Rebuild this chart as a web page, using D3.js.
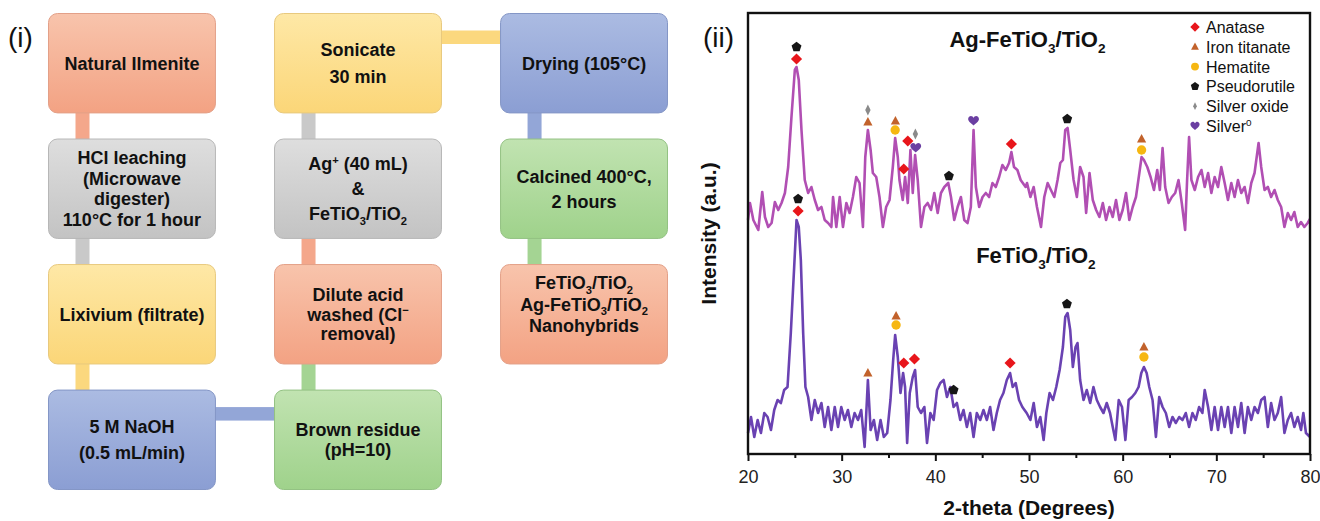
<!DOCTYPE html>
<html>
<head>
<meta charset="utf-8">
<script src="https://cdn.jsdelivr.net/npm/d3@7"></script>
<style>
  body { margin: 0; background: #fff; }
  svg { display: block; font-family: "Liberation Sans", Arial, sans-serif; }
</style>
</head>
<body>
<svg id="fig" width="1320" height="521"></svg>
<script>
// ---------- (i) flow chart: steps in process order ----------
const stepLabels = [
  ["Natural Ilmenite"],
  ["HCl leaching", "(Microwave", "digester)", "110°C for 1 hour"],
  ["Lixivium (filtrate)"],
  ["5 M NaOH", "(0.5 mL/min)"],
  ["Brown residue", "(pH=10)"],
  ["Dilute acid", "washed (Cl^−", "removal)"],
  ["Ag^+ (40 mL)", "&", "FeTiO_3/TiO_2"],
  ["Sonicate", "30 min"],
  ["Drying (105°C)"],
  ["Calcined 400°C,", "2 hours"],
  ["FeTiO_3/TiO_2", "Ag-FeTiO_3/TiO_2", "Nanohybrids"]
];
const stepCol   = [0, 0, 0, 0, 1, 1, 1, 1, 2, 2, 2];
const stepRow   = [0, 1, 2, 3, 3, 2, 1, 0, 0, 1, 2];
const stepColor = ["salmon", "gray", "yellow", "blue", "green", "salmon", "gray", "yellow", "blue", "green", "salmon"];

// ---------- (ii) XRD patterns ----------
const agTheta = [20.0,20.21,20.57,21.10,21.52,21.81,22.16,22.52,22.87,23.23,23.58,23.94,24.29,24.64,25.00,25.18,25.42,25.71,26.06,26.42,
  26.77,27.13,27.48,27.84,28.19,28.55,28.90,29.08,29.43,29.79,30.14,30.50,30.85,31.20,31.56,31.91,32.27,32.52,32.80,33.09,
  33.33,33.69,34.04,34.40,34.75,35.11,35.46,35.71,35.99,36.17,36.52,36.77,37.06,37.34,37.59,37.84,38.12,38.47,38.83,39.18,
  39.54,39.89,40.25,40.60,40.96,41.38,41.67,42.02,42.38,42.73,43.09,43.44,43.79,44.08,44.33,44.68,45.04,45.39,45.74,46.10,
  46.45,46.81,47.16,47.52,47.87,48.12,48.40,48.76,49.11,49.64,
  49.79,50.15,50.50,50.85,51.28,51.63,51.99,52.34,52.70,53.05,53.34,53.62,53.87,54.12,54.40,54.76,55.11,55.46,55.82,56.10,
  56.46,56.81,57.17,57.52,57.88,58.23,58.59,58.94,59.29,59.65,60.00,60.36,60.71,61.07,61.42,61.78,62.02,62.27,62.63,62.98,
  63.34,63.69,63.97,64.26,64.54,64.90,65.25,65.61,65.96,66.31,66.67,66.88,67.09,67.34,67.70,68.05,68.41,68.76,69.12,69.47,
  69.82,70.18,70.53,70.89,71.24,71.60,71.95,72.31,72.66,73.02,73.37,73.73,74.08,74.51,74.79,75.15,75.50,75.85,76.21,76.56,
  76.92,77.27,77.63,77.98,78.33,78.69,79.04,79.40,79.75,80.0];
const agIntensity = [234,251,234,224,262,237,227,231,252,244,251,261,287,337,384,387,374,324,274,261,
  267,254,244,247,234,231,227,257,227,257,227,251,241,257,277,271,227,297,324,304,
  281,277,257,227,247,254,287,316,297,274,254,277,251,304,261,299,274,227,247,251,
  244,261,241,261,267,271,257,234,247,257,234,231,247,324,267,247,257,261,257,271,
  267,277,289,284,291,302,287,284,274,267,
  271,257,267,247,227,257,271,264,257,274,291,294,324,326,304,274,257,287,277,241,
  281,254,244,237,251,234,247,237,254,234,244,261,234,247,257,281,297,294,287,277,
  264,284,264,306,267,251,257,261,274,251,224,274,317,274,264,277,284,267,281,261,
  277,267,287,271,254,271,257,274,261,267,251,271,281,311,287,264,267,257,264,254,
  247,227,241,234,242,227,232,227,231,235];

const feTheta = [20.0,20.32,20.67,21.03,21.38,21.74,22.09,22.45,22.80,23.16,23.51,23.86,24.22,24.57,24.93,25.18,25.42,25.64,25.89,26.13,
  26.42,26.77,27.13,27.48,27.84,28.19,28.55,28.90,29.26,29.61,29.96,30.32,30.67,31.03,31.38,31.74,32.09,32.45,32.80,33.09,
  33.44,33.79,34.15,34.50,34.86,35.21,35.50,35.71,35.99,36.28,36.56,36.77,36.99,37.27,37.59,37.84,38.12,38.47,38.83,39.11,
  39.47,39.82,40.18,40.53,40.89,41.24,41.60,41.95,42.30,42.66,43.01,43.37,43.72,44.08,44.43,44.79,45.14,45.50,45.85,46.21,
  46.56,46.91,47.27,47.63,47.98,48.26,48.58,48.94,49.29,49.75,
  50.15,50.50,50.85,51.21,51.56,51.85,52.20,52.56,52.91,53.27,53.62,53.87,54.12,54.40,54.68,54.97,55.18,55.46,55.82,56.17,
  56.53,56.88,57.24,57.59,57.95,58.30,58.65,58.94,59.22,59.58,59.93,60.29,60.64,61.00,61.35,61.70,61.99,62.27,62.56,62.84,
  63.19,63.55,63.90,64.26,64.61,64.97,65.32,65.68,66.03,66.39,66.74,67.09,67.45,67.80,68.16,68.51,68.76,69.12,69.47,69.82,
  70.18,70.53,70.89,71.24,71.60,71.95,72.31,72.66,73.02,73.37,73.73,74.08,74.44,74.79,75.15,75.50,75.85,76.21,76.56,76.92,
  77.27,77.63,77.98,78.33,78.69,79.04,79.29,79.57,80.0];
const feIntensity = [21,37,17,34,21,41,37,24,44,54,51,64,67,121,187,234,227,194,121,67,
  57,34,54,41,51,27,47,24,47,27,47,34,44,27,41,34,44,7,74,24,
  34,14,34,17,21,54,94,119,97,61,81,67,11,61,77,84,47,41,47,11,
  41,34,64,71,74,57,67,47,51,34,44,27,41,17,41,34,44,34,47,24,
  41,54,61,74,81,67,71,54,47,41,
  34,51,27,37,14,41,61,54,67,84,107,137,141,124,87,107,111,74,54,64,
  51,67,54,47,41,51,41,27,14,54,47,14,54,57,61,67,81,87,81,67,
  54,17,57,47,41,27,37,31,37,34,41,27,41,34,47,41,64,47,24,47,
  24,47,27,47,21,47,27,51,21,47,34,47,41,54,57,27,51,34,41,57,
  21,34,41,27,37,24,41,21,17];

// phase markers: [phase, 2-theta, intensity]
const agMarks = [
  ["Pseudorutile", 25.18, 407], ["Anatase", 25.18, 395],
  ["Silver oxide", 32.80, 344], ["Iron titanate", 32.80, 332],
  ["Iron titanate", 35.74, 333], ["Hematite", 35.71, 324],
  ["Anatase", 36.63, 285], ["Anatase", 37.06, 313],
  ["Silver oxide", 37.87, 320], ["Silver", 37.91, 306],
  ["Pseudorutile", 41.45, 278], ["Silver", 44.08, 333], ["Anatase", 48.12, 310],
  ["Pseudorutile", 54.08, 335], ["Iron titanate", 62.02, 315], ["Hematite", 62.02, 304]
];
const feMarks = [
  ["Pseudorutile", 25.35, 255], ["Anatase", 25.35, 243],
  ["Iron titanate", 32.80, 81], ["Iron titanate", 35.81, 138], ["Hematite", 35.81, 129],
  ["Anatase", 36.63, 91], ["Anatase", 37.77, 95], ["Pseudorutile", 41.95, 64], ["Anatase", 47.98, 91],
  ["Pseudorutile", 54.05, 150], ["Iron titanate", 62.27, 107], ["Hematite", 62.27, 97]
];
const phaseNames  = ["Anatase", "Iron titanate", "Hematite", "Pseudorutile", "Silver oxide", "Silver"];
const phaseLabels = ["Anatase", "Iron titanate", "Hematite", "Pseudorutile", "Silver oxide", "Silver^0"];
const xTicks = [20, 30, 40, 50, 60, 70, 80];
const xMinorTicks = [25, 35, 45, 55, 65, 75];

// ---------- styles / layout ----------
const boxFill = {
  salmon: ["#f8c4ac", "#f3a283", "#e3a088"],
  gray:   ["#dedede", "#c3c3c3", "#b7b7b7"],
  yellow: ["#fee8a6", "#fbd678", "#e8c97e"],
  blue:   ["#abbbe2", "#8b9ed3", "#8496c6"],
  green:  ["#c1e3b1", "#9fd28b", "#93c283"]
};
const linkColor = { salmon: "#f4a78b", gray: "#c9c9c9", yellow: "#fbd87e", blue: "#93a6d7", green: "#a4d493" };
const stepLeading = [0, 20.5, 0, 26, 20, 19.5, 25, 27, 0, 25, 21.5];
const stepShift   = [0, 0, 0, 0, 0, 0, 0, 0, 0, 0, -10];
const phaseColor = {
  "Anatase": "#e8161b", "Iron titanate": "#c2622b", "Hematite": "#f6b712",
  "Pseudorutile": "#161616", "Silver oxide": "#8a8a8a", "Silver": "#6b3fa2"
};

const svg = d3.select("#fig");
const defs = svg.append("defs");

// text with _x subscript and ^x superscript
function richText(sel, str, fs) {
  const parts = str.split(/([_^].)/).filter(s => s);
  let off = 0;
  parts.forEach(p => {
    let target = 0, txt = p, size = fs;
    if (p.length === 2 && p[0] === "_") { target = fs * 0.25; txt = p[1]; size = fs * 0.62; }
    else if (p.length === 2 && p[0] === "^") { target = -fs * 0.36; txt = p[1]; size = fs * 0.62; }
    sel.append("tspan").attr("dy", target - off).attr("font-size", size).text(txt);
    off = target;
  });
}

// ---------- draw flow chart ----------
Object.entries(boxFill).forEach(([k, c]) => {
  const g = defs.append("linearGradient").attr("id", "grad-" + k)
    .attr("x1", 0).attr("y1", 0).attr("x2", 0).attr("y2", 1);
  g.append("stop").attr("offset", "0%").attr("stop-color", c[0]);
  g.append("stop").attr("offset", "100%").attr("stop-color", c[1]);
});

const colX = d3.scaleBand().domain(d3.range(3)).range([48, 668]).paddingInner(0.257);
const rowY = d3.scaleBand().domain(d3.range(4)).range([13, 490]).paddingInner(0.2);
const bw = colX.bandwidth(), bh = rowY.bandwidth();

const flow = svg.append("g");
const links = flow.append("g");
for (let i = 0; i < stepLabels.length - 1; i++) {
  const c0 = stepCol[i], r0 = stepRow[i], c1 = stepCol[i + 1], r1 = stepRow[i + 1];
  const col = linkColor[stepColor[i]];
  if (c0 === c1) {
    const yTop = rowY(Math.min(r0, r1)) + bh - 2, yBot = rowY(Math.max(r0, r1)) + 2;
    links.append("rect").attr("x", colX(c0) + 27.5).attr("y", yTop)
      .attr("width", 14).attr("height", yBot - yTop).attr("fill", col);
  } else {
    const xl = colX(Math.min(c0, c1)) + bw - 2, xr = colX(Math.max(c0, c1)) + 2;
    links.append("rect").attr("x", xl).attr("y", rowY(r0) + 17.5)
      .attr("width", xr - xl).attr("height", 13.5).attr("fill", col);
  }
}

const fs = 18;
stepLabels.forEach((lines, i) => {
  const x0 = colX(stepCol[i]), y0 = rowY(stepRow[i]);
  flow.append("rect")
    .attr("x", x0 + 0.5).attr("y", y0 + 0.5)
    .attr("width", bw - 1).attr("height", bh - 1)
    .attr("rx", 9).attr("ry", 9)
    .attr("fill", `url(#grad-${stepColor[i]})`)
    .attr("stroke", boxFill[stepColor[i]][2]).attr("stroke-width", 1);
  const n = lines.length;
  lines.forEach((ln, j) => {
    const cy = y0 + bh / 2 + stepShift[i] + (j - (n - 1) / 2) * stepLeading[i];
    const t = flow.append("text")
      .attr("x", x0 + bw / 2).attr("y", cy + 0.35 * fs)
      .attr("text-anchor", "middle")
      .attr("font-size", fs).attr("font-weight", "bold").attr("fill", "#111");
    richText(t, ln, fs);
  });
});

svg.append("text").attr("x", 8).attr("y", 47)
  .attr("font-size", 28).attr("fill", "#111").text("(i)");

// ---------- draw XRD chart ----------
const x = d3.scaleLinear().domain([20, 80]).range([748, 1310]);
const y = d3.scaleLinear().domain([0, 441]).range([454, 13]);

svg.append("text").attr("x", 703).attr("y", 47)
  .attr("font-size", 28).attr("fill", "#111").text("(ii)");

const line = d3.line().x(d => x(d[0])).y(d => y(d[1]));
const series = [
  { pts: d3.zip(agTheta, agIntensity), color: "#b14fb3" },
  { pts: d3.zip(feTheta, feIntensity), color: "#6a42b2" }
];
svg.append("g").selectAll("path").data(series).join("path")
  .attr("d", d => line(d.pts))
  .attr("fill", "none").attr("stroke", d => d.color)
  .attr("stroke-width", 2.6).attr("stroke-linejoin", "round");

// marker shapes
const pent = d3.range(5).map(k => {
  const a = -Math.PI / 2 + k * 2 * Math.PI / 5;
  return [5.2 * Math.cos(a), 5.2 * Math.sin(a)];
});
const markerPath = {
  "Anatase": "M0,-5.6L5.6,0L0,5.6L-5.6,0Z",
  "Iron titanate": "M0,-5L4.6,3.6L-4.6,3.6Z",
  "Hematite": d3.symbol(d3.symbolCircle, 68)(),
  "Pseudorutile": "M" + pent.map(p => p.join(",")).join("L") + "Z",
  "Silver oxide": "M0,-5.6L2.7,0L0,5.6L-2.7,0Z",
  "Silver": "M0,4.6C-2,2.9 -5.4,0.6 -5.4,-1.9C-5.4,-3.9 -3.8,-4.9 -2.6,-4.9C-1.4,-4.9 -0.5,-4.1 0,-3.1C0.5,-4.1 1.4,-4.9 2.6,-4.9C3.8,-4.9 5.4,-3.9 5.4,-1.9C5.4,0.6 2,2.9 0,4.6Z"
};

svg.append("g").selectAll("path").data(agMarks.concat(feMarks)).join("path")
  .attr("transform", d => `translate(${x(d[1])},${y(d[2])})`)
  .attr("d", d => markerPath[d[0]])
  .attr("fill", d => phaseColor[d[0]]);

// sample labels
const lab1 = svg.append("text").attr("x", x(41.5)).attr("y", y(407))
  .attr("font-size", 22).attr("font-weight", "bold").attr("fill", "#111");
richText(lab1, "Ag-FeTiO_3/TiO_2", 22);
const lab2 = svg.append("text").attr("x", x(44.36)).attr("y", y(191))
  .attr("font-size", 22).attr("font-weight", "bold").attr("fill", "#111");
richText(lab2, "FeTiO_3/TiO_2", 22);

// legend
const legend = svg.append("g").attr("transform", "translate(1195,27)");
phaseNames.forEach((p, i) => {
  const row = legend.append("g").attr("transform", `translate(0,${i * 19.8})`);
  row.append("path").attr("d", markerPath[p]).attr("fill", phaseColor[p])
    .attr("transform", p === "Silver oxide" ? "scale(0.7)" : "scale(0.85)");
  const t = row.append("text").attr("x", 11).attr("y", 6)
    .attr("font-size", 16).attr("fill", "#111");
  richText(t, phaseLabels[i], 16);
});

// axes
const xAxis = svg.append("g").attr("transform", "translate(0,454)")
  .call(d3.axisBottom(x).tickValues(xTicks).tickSize(7).tickPadding(9));
xAxis.select(".domain").remove();
xAxis.selectAll("line").attr("stroke", "#111").attr("stroke-width", 2);
xAxis.selectAll("text").attr("font-size", 18).attr("fill", "#222")
  .attr("font-family", "'Liberation Sans', Arial, sans-serif");
const xMinor = svg.append("g").attr("transform", "translate(0,454)")
  .call(d3.axisBottom(x).tickValues(xMinorTicks).tickSize(4).tickFormat(""));
xMinor.select(".domain").remove();
xMinor.selectAll("line").attr("stroke", "#111").attr("stroke-width", 2);

// frame
svg.append("rect").attr("x", x(20)).attr("y", y(441))
  .attr("width", x(80) - x(20)).attr("height", y(0) - y(441))
  .attr("fill", "none").attr("stroke", "#111").attr("stroke-width", 2.4);

// axis titles
svg.append("text").attr("x", (x(20) + x(80)) / 2).attr("y", 515)
  .attr("text-anchor", "middle").attr("font-size", 21).attr("font-weight", "bold")
  .attr("fill", "#111").text("2-theta (Degrees)");
svg.append("text").attr("transform", `translate(716,${(y(0) + y(441)) / 2}) rotate(-90)`)
  .attr("text-anchor", "middle").attr("font-size", 21).attr("font-weight", "bold")
  .attr("fill", "#111").text("Intensity (a.u.)");
</script>
</body>
</html>
